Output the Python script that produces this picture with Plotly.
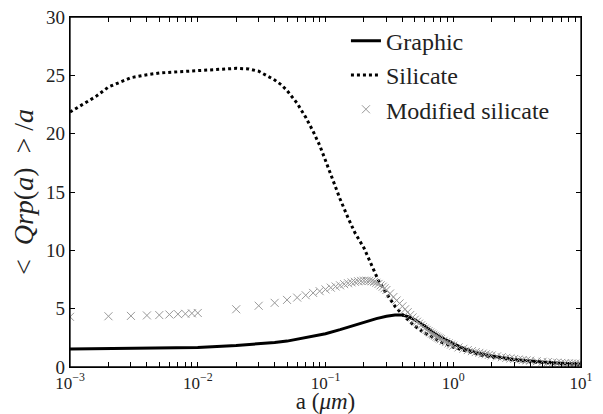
import plotly.graph_objects as go

# ---- data ----
graphic_x = [0.001, 0.002, 0.005, 0.01, 0.02, 0.03, 0.04, 0.05, 0.07, 0.1, 0.13, 0.16, 0.2, 0.25,
             0.3, 0.35, 0.4, 0.45, 0.5, 0.6, 0.7, 0.8, 1.0, 1.2, 1.5, 2.0, 3.0, 4.0, 5.0, 7.0, 10.0]
graphic_y = [1.55, 1.57, 1.6, 1.68, 1.85, 1.98, 2.1, 2.22, 2.5, 2.85, 3.2, 3.5, 3.85, 4.15,
             4.35, 4.46, 4.45, 4.3, 4.05, 3.5, 2.95, 2.55, 2.0, 1.6, 1.25, 0.95, 0.65, 0.5, 0.42, 0.32, 0.25]

silicate_x = [0.001, 0.0013, 0.0016, 0.002, 0.003, 0.004, 0.005, 0.007, 0.01, 0.015, 0.02, 0.025,
              0.03, 0.035, 0.04, 0.045, 0.05, 0.06, 0.07, 0.08, 0.09, 0.1, 0.11, 0.13, 0.15, 0.17,
              0.2, 0.23, 0.26, 0.3, 0.35, 0.4, 0.5, 0.6, 0.7, 0.8, 1.0, 1.3, 1.6, 2.0, 3.0, 4.0,
              5.0, 7.0, 10.0]
silicate_y = [21.85, 22.6, 23.2, 24.0, 24.8, 25.05, 25.2, 25.3, 25.4, 25.5, 25.6, 25.55,
              25.35, 24.95, 24.6, 24.2, 23.7, 22.6, 21.4, 20.2, 19.0, 17.7, 16.5, 14.4, 12.8, 11.5,
              10.2, 8.7, 7.4, 6.3, 5.2, 4.5, 3.5, 2.9, 2.5, 2.15, 1.7, 1.3, 1.05, 0.85, 0.6, 0.45,
              0.38, 0.28, 0.2]

modified_x = [0.001, 0.002, 0.003, 0.004, 0.005, 0.006, 0.007, 0.008, 0.009, 0.01,
              0.02, 0.03, 0.04, 0.05, 0.06, 0.07, 0.08, 0.09, 0.1,
              0.11, 0.12, 0.13, 0.14, 0.15, 0.16, 0.17, 0.18, 0.19, 0.2,
              0.21, 0.22, 0.23, 0.24, 0.25, 0.26, 0.27, 0.28, 0.29, 0.30,
              0.32, 0.34, 0.36, 0.38, 0.40, 0.42, 0.44, 0.46, 0.48, 0.50,
              0.52, 0.54, 0.56, 0.58, 0.60, 0.62, 0.64, 0.66, 0.68, 0.70,
              0.72, 0.74, 0.76, 0.78, 0.80, 0.84, 0.88, 0.92, 0.96, 1.0,
              1.1, 1.2, 1.3, 1.4, 1.5, 1.6, 1.7, 1.8, 1.9, 2.0,
              2.2, 2.4, 2.6, 2.8, 3.0, 3.25, 3.5, 3.75, 4.0,
              4.5, 5.0, 5.5, 6.0, 6.5, 7.0, 7.5, 8.0, 8.5, 9.0, 9.5, 10.0]
modified_y = [4.3, 4.35, 4.38, 4.42, 4.45, 4.5, 4.53, 4.56, 4.6, 4.63,
              4.95, 5.25, 5.5, 5.75, 5.95, 6.15, 6.35, 6.5, 6.65,
              6.8, 6.9, 7.0, 7.1, 7.18, 7.25, 7.3, 7.35, 7.38, 7.4,
              7.4, 7.38, 7.35, 7.3, 7.22, 7.12, 7.0, 6.88, 6.75, 6.6,
              6.3, 6.0, 5.7, 5.45, 5.2, 4.95, 4.7, 4.45, 4.25, 4.05,
              3.88, 3.72, 3.57, 3.43, 3.3, 3.18, 3.07, 2.96, 2.86, 2.77,
              2.68, 2.6, 2.52, 2.45, 2.38, 2.25, 2.13, 2.02, 1.92, 1.83,
              1.68, 1.56, 1.45, 1.36, 1.28, 1.21, 1.15, 1.09, 1.04, 0.99,
              0.91, 0.84, 0.78, 0.73, 0.69, 0.64, 0.6, 0.57, 0.54,
              0.49, 0.45, 0.42, 0.39, 0.37, 0.35, 0.33, 0.31, 0.3, 0.29, 0.28, 0.27]

x_tickvals = [0.001, 0.002, 0.003, 0.004, 0.005, 0.006, 0.007, 0.008, 0.009,
              0.01, 0.02, 0.03, 0.04, 0.05, 0.06, 0.07, 0.08, 0.09,
              0.1, 0.2, 0.3, 0.4, 0.5, 0.6, 0.7, 0.8, 0.9,
              1, 2, 3, 4, 5, 6, 7, 8, 9, 10]
x_ticktext = ["10<sup>−3</sup>", "", "", "", "", "", "", "", "",
              "10<sup>−2</sup>", "", "", "", "", "", "", "", "",
              "10<sup>−1</sup>", "", "", "", "", "", "", "", "",
              "10<sup>0</sup>", "", "", "", "", "", "", "", "",
              "10<sup>1</sup>"]
y_tickvals = [0, 5, 10, 15, 20, 25, 30]

FONT = "Liberation Serif"
TXT = "#222222"

fig = go.Figure()
fig.add_trace(go.Scatter(x=graphic_x, y=graphic_y, mode="lines", name="Graphic",
                         legendgroup="g1", line=dict(color="black", width=3)))
fig.add_trace(go.Scatter(x=silicate_x, y=silicate_y, mode="lines", name="Silicate",
                         legendgroup="g2", line=dict(color="black", width=3, dash="3px,3px")))
fig.add_trace(go.Scatter(x=modified_x, y=modified_y, mode="markers", name="Modified silicate",
                         legendgroup="g3",
                         marker=dict(symbol="x-thin", size=8, color="#999999",
                                     line=dict(color="#999999", width=1))))

axis_common = dict(showline=True, linecolor="black", linewidth=1.3, mirror="allticks",
                   ticks="inside", ticklen=5, tickwidth=1.2, tickcolor="black",
                   showgrid=False, zeroline=False, automargin=False)

fig.update_xaxes(type="log", range=[-3, 1], tickvals=x_tickvals, ticktext=x_ticktext,
                 tickfont=dict(family=FONT, size=17, color=TXT),
                 title=dict(text="a (<i>μm</i>)", font=dict(family=FONT, size=23, color=TXT),
                            standoff=7),
                 **axis_common)
fig.update_yaxes(range=[0, 30], tickvals=y_tickvals,
                 tickfont=dict(family=FONT, size=19, color=TXT),
                 title=dict(text="&lt;&nbsp;&nbsp;<i>Qrp</i>(<i>a</i>)&nbsp;&nbsp;&gt;&nbsp;/<i>a</i>",
                            font=dict(family=FONT, size=28, color=TXT), standoff=4),
                 **axis_common)

# frame around the plotting area
fig.add_shape(type="rect", xref="paper", yref="paper", x0=0, y0=0, x1=1, y1=1,
              line=dict(color="black", width=1.3), fillcolor="rgba(0,0,0,0)", layer="above")

fig.update_layout(
    width=603, height=414,
    margin=dict(l=70, r=22, t=17, b=47),
    plot_bgcolor="white", paper_bgcolor="white",
    font=dict(family=FONT, color=TXT),
    legend=dict(x=0.54, y=0.995, xanchor="left", yanchor="top",
                bgcolor="rgba(0,0,0,0)", font=dict(family=FONT, size=24, color=TXT),
                tracegroupgap=0, traceorder="grouped"),
)

fig.write_html("out.html", config={"displayModeBar": False},
               post_script="document.body.style.margin='0';document.body.style.overflow='hidden';")
